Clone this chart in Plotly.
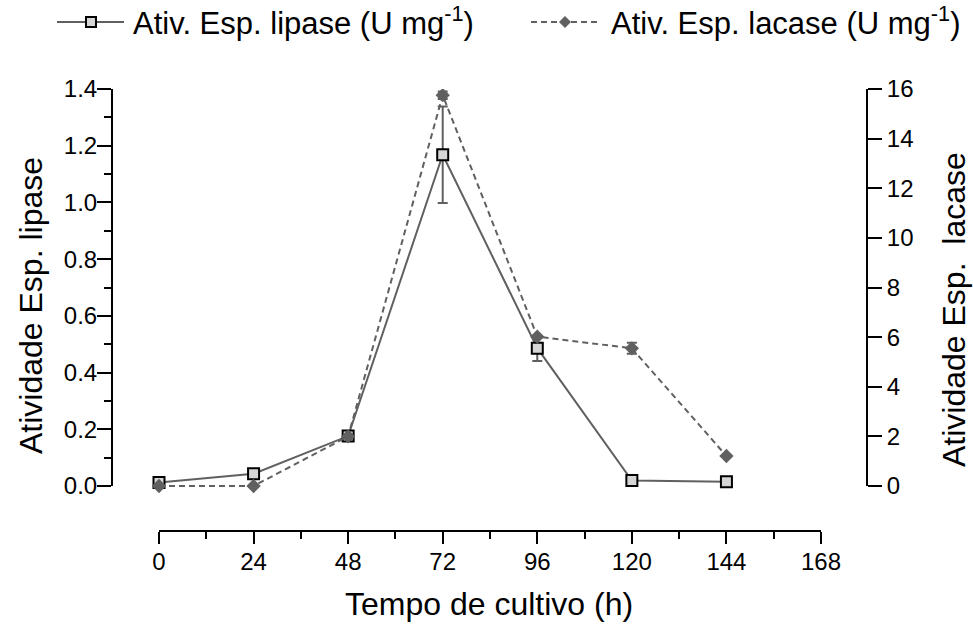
import plotly.graph_objects as go

# Culture time (h)
tempo = [0, 24, 48, 72, 96, 120, 144]
# Specific lipase activity (U mg-1) and its standard deviation
lipase = [0.012, 0.043, 0.176, 1.168, 0.486, 0.019, 0.015]
lipase_err = [0.0, 0.0, 0.01, 0.17, 0.045, 0.0, 0.0]
# Specific laccase activity (U mg-1) and its standard deviation
lacase = [0.0, 0.0, 2.0, 15.75, 6.02, 5.55, 1.21]
lacase_err = [0.0, 0.0, 0.0, 0.15, 0.0, 0.22, 0.0]

x_ticks = [0, 24, 48, 72, 96, 120, 144, 168]
y_ticks = [0.0, 0.2, 0.4, 0.6, 0.8, 1.0, 1.2, 1.4]
y2_ticks = [0, 2, 4, 6, 8, 10, 12, 14, 16]

W, H = 973, 624
ML, MR, MT, MB = 112, 106, 89, 93
PW, PH = W - ML - MR, H - MT - MB

GRAY = "#606060"
FONT = "Arial"


def px(xp):
    return (xp - ML) / PW


def py(yp):
    return (H - MB - yp) / PH


fig = go.Figure()

fig.add_trace(go.Scatter(
    x=tempo, y=lacase, mode="lines+markers", name="lacase",
    line=dict(color=GRAY, width=2, dash="6px,4px"),
    marker=dict(symbol="diamond", size=11, color=GRAY),
    error_y=dict(type="data", array=lacase_err, color=GRAY, thickness=2, width=5),
    showlegend=False, yaxis="y2",
))

fig.add_trace(go.Scatter(
    x=tempo, y=lipase, mode="lines+markers", name="lipase",
    line=dict(color=GRAY, width=2),
    marker=dict(symbol="square", size=11, color="#d6d6d6",
                line=dict(color="black", width=2)),
    error_y=dict(type="data", array=lipase_err, color=GRAY, thickness=2, width=5),
    showlegend=False, yaxis="y",
))

# axis ranges chosen so the data frame sits detached from the axis lines
x_pp = (821 - 159) / 168.0
x_rng = [-(159 - ML) / x_pp, 168 + (ML + PW - 821) / x_pp]
y_pp = (486 - 89) / 1.4
y_lo = -(H - MB - 486) / y_pp
y_rng = [y_lo, 1.4]
y2_rng = [y_lo * 16 / 1.4, 16]

tickfont = dict(family=FONT, size=24, color="black")

fig.update_layout(
    width=W, height=H,
    margin=dict(l=ML, r=MR, t=MT, b=MB, pad=0),
    paper_bgcolor="white", plot_bgcolor="white",
    font=dict(family=FONT, color="black"),
    showlegend=False,
    xaxis=dict(
        range=x_rng, tickmode="array", tickvals=x_ticks,
        ticktext=[str(v) for v in x_ticks],
        ticks="outside", ticklen=12, tickwidth=2, tickcolor="black",
        ticklabelstandoff=-3,
        minor=dict(tickmode="array", tickvals=[v + 12 for v in x_ticks[:-1]],
                   ticks="outside", ticklen=7, tickwidth=2, tickcolor="black"),
        showline=False, showgrid=False, zeroline=False,
        tickfont=tickfont,
    ),
    yaxis=dict(
        range=y_rng, tickmode="array", tickvals=y_ticks,
        ticktext=[f"{v:.1f}" for v in y_ticks],
        ticks="outside", ticklen=14, tickwidth=2, tickcolor="black",
        ticklabelstandoff=-5,
        minor=dict(tickmode="array", tickvals=[round(v + 0.1, 1) for v in y_ticks[:-1]],
                   ticks="outside", ticklen=7, tickwidth=2, tickcolor="black"),
        showline=False, showgrid=False, zeroline=False,
        tickfont=tickfont,
    ),
    yaxis2=dict(
        range=y2_rng, overlaying="y", side="right", anchor="x",
        tickmode="array", tickvals=y2_ticks,
        ticktext=[str(v) for v in y2_ticks],
        ticks="outside", ticklen=14, tickwidth=2, tickcolor="black",
        showline=False, showgrid=False, zeroline=False,
        tickfont=tickfont,
    ),
)

# detached axis lines
fig.add_shape(type="line", xref="paper", yref="y", x0=0, x1=0, y0=0, y1=1.4,
              line=dict(color="black", width=2))
fig.add_shape(type="line", xref="paper", yref="y2", x0=1, x1=1, y0=0, y1=16,
              line=dict(color="black", width=2))
fig.add_shape(type="line", xref="x", yref="paper", x0=0, x1=168, y0=0, y1=0,
              line=dict(color="black", width=2))

# axis titles
title_font = dict(family=FONT, size=32, color="black")
fig.add_annotation(text="Tempo de cultivo (h)", xref="paper", yref="paper",
                   x=px(489), y=py(604), showarrow=False, font=title_font,
                   xanchor="center", yanchor="middle")
fig.add_annotation(text="Atividade Esp. lipase", xref="paper", yref="paper",
                   x=px(31), y=py(306), showarrow=False, font=title_font,
                   textangle=-90, xanchor="center", yanchor="middle")
fig.add_annotation(text="Atividade Esp.  lacase", xref="paper", yref="paper",
                   x=px(954), y=py(310), showarrow=False, font=title_font,
                   textangle=-90, xanchor="center", yanchor="middle")

# legend drawn at the top of the figure
LY = 22
fig.add_shape(type="line", xref="paper", yref="paper",
              x0=px(57), x1=px(124), y0=py(LY), y1=py(LY),
              line=dict(color=GRAY, width=2))
fig.add_shape(type="rect", xref="paper", yref="paper",
              x0=px(86), x1=px(96), y0=py(LY + 5), y1=py(LY - 5),
              fillcolor="#d6d6d6", line=dict(color="black", width=2))
fig.add_shape(type="line", xref="paper", yref="paper",
              x0=px(531), x1=px(599), y0=py(LY), y1=py(LY),
              line=dict(color=GRAY, width=2, dash="6px,4px"))
fig.add_shape(type="path", xref="paper", yref="paper",
              path=(f"M {px(565)} {py(LY - 6)} L {px(571)} {py(LY)} "
                    f"L {px(565)} {py(LY + 6)} L {px(559)} {py(LY)} Z"),
              fillcolor=GRAY, line=dict(color=GRAY, width=0))

leg_font = dict(family=FONT, size=31, color="black")
fig.add_annotation(text="Ativ. Esp. lipase (U mg<sup>-1</sup>)", xref="paper", yref="paper",
                   x=px(131), y=py(LY - 1), showarrow=False, font=leg_font,
                   xanchor="left", yanchor="middle")
fig.add_annotation(text="Ativ. Esp. lacase (U mg<sup>-1</sup>)", xref="paper", yref="paper",
                   x=px(609), y=py(LY - 1), showarrow=False, font=leg_font,
                   xanchor="left", yanchor="middle")

fig.write_html("out.html")
